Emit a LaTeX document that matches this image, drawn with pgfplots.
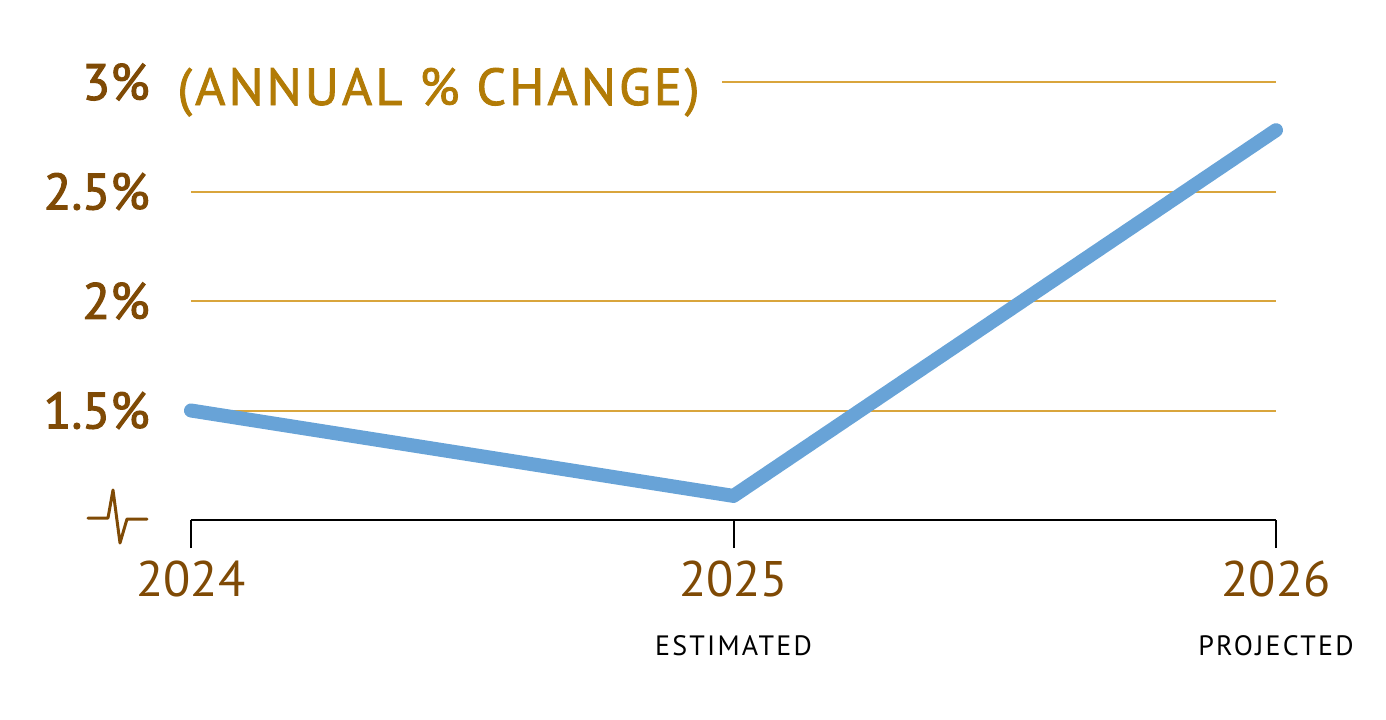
\documentclass[border=0pt]{standalone}
\usepackage{pgfplots}
\pgfplotsset{compat=1.18}
\usepackage{fontspec}
\setmainfont{PT Sans}
\definecolor{tickbrown}{HTML}{7F4A05}
\definecolor{titlegold}{HTML}{B27B06}
\definecolor{gridgold}{HTML}{D9A53C}
\definecolor{lineblue}{HTML}{68A3D7}
\begin{document}
\begin{tikzpicture}
\begin{axis}[
  scale only axis, width=542.5pt, height=219pt,
  xmin=0, xmax=2, ymin=1, ymax=3,
  clip=false,
  axis x line*=bottom, axis y line*=left,
  x axis line style={black, line width=1pt, -},
  y axis line style={draw=none},
  xtick={0,1,2}, xticklabels={2024,2025,2026},
  tick align=outside, major tick length=14pt,
  xtick style={black, line width=1pt},
  xticklabel style={font=\fontsize{25}{25}\selectfont, text=tickbrown, yshift=-3pt},
  ytick={1.5,2,2.5,3}, yticklabels={1.5\%,2\%,2.5\%,3\%},
  ytick style={draw=none},
  yticklabel style={font=\fontsize{25.5}{25}\selectfont\addfontfeatures{FakeBold=2.2}, text=tickbrown, anchor=east, inner sep=0pt, xshift=-6.5pt},
  ymajorgrids, major grid style={gridgold, line width=1pt},
]
\addplot[lineblue, line width=7pt, line cap=round, line join=round] coordinates {(0,1.5) (1,1.11) (2,2.78)};
\coordinate (o) at (rel axis cs:0,0);
\coordinate (e) at (axis cs:1,1);
\coordinate (p) at (axis cs:2,1);
\end{axis}
\node[anchor=base west, font=\fontsize{26}{26}\selectfont\addfontfeatures{LetterSpace=6,FakeBold=1.6}, text=titlegold, fill=white, inner xsep=11pt, inner ysep=4pt] at ([xshift=-18pt, yshift=207.5pt]o) {(ANNUAL \% CHANGE)};
\node[anchor=base, font=\fontsize{14}{14}\selectfont\addfontfeatures{LetterSpace=8}, text=black] at ([yshift=-67.5pt]e) {ESTIMATED};
\node[anchor=base, font=\fontsize{14}{14}\selectfont\addfontfeatures{LetterSpace=8}, text=black] at ([yshift=-67.5pt]p) {PROJECTED};
\draw[tickbrown, line width=1.5pt, line join=round, line cap=round, shift={(o)}]
  (-51.5pt,1pt) -- (-41.5pt,1pt) -- (-39pt,15pt) -- (-35.5pt,-11.5pt) -- (-32pt,0.5pt) -- (-22pt,0.5pt);
\pgfresetboundingbox
\path[use as bounding box, shift={(o)}] (-95.5pt,-99.5pt) rectangle (597.5pt,260pt);
\end{tikzpicture}
\end{document}
